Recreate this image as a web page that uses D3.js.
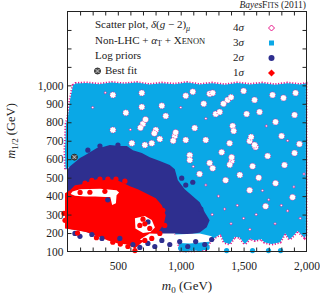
<!DOCTYPE html>
<html><head><meta charset="utf-8">
<script src="https://cdn.jsdelivr.net/npm/d3@7"></script>
<style>
body{margin:0;background:#fff;}
svg{display:block;font-family:"Liberation Serif","DejaVu Serif",serif;}
</style></head><body>
<svg id="c" width="320" height="295"></svg>
<script>
// ---- data (m0, m1/2) in GeV ----
const xTickLabels = [500, 1000, 1500, 2000];
const xMinorTicks = [200,300,400,500,600,700,800,900,1000,1100,1200,1300,1400,1500,1600,1700,1800,1900];
const yTickLabels = [100,200,300,400,500,600,700,800,900,1000];
const yMinorTicks = [200,300,400,500,600,700,800,900,1000,1100,1200,1300];
const levels = ["4σ","3σ","2σ","1σ"];

// outline of the 3σ scatter region
const region3 = [[144,1000],[165,1010],[250,1013],[350,1006],[450,1015],[550,1008],[650,1015],[750,1004],[850,1012],[950,1006],[1050,1015],[1150,1004],[1250,1012],[1350,1003],[1450,1013],[1550,1005],[1650,1012],[1750,1003],[1850,1012],[1950,1004],[1995,1010],
 [1995,190],[1984,175],[1930,212],[1895,185],[1865,165],[1830,200],[1790,150],[1722,140],[1665,150],[1640,168],[1590,160],[1550,170],[1510,140],[1470,176],[1430,180],[1390,140],[1345,150],[1318,195],[1270,175],[1230,150],[1200,108],[1100,104],[1000,104],[960,190],[900,320],[700,480],[400,560],[150,570],[85,545],[82,600],[80,650],[84,700],[88,790],[104,829],[120,921]];
// empty spots inside the 3σ region
const holes3 = [[691,959],[461,948],[1096,965],[1230,954],[1373,921],[1340,900],[1400,935],[1500,970],[1587,921],[1730,948],[1817,932],[1913,959],[1040,943],[1183,900],[1254,959],
 [850,889],[691,883],[1278,845],[1524,845],[1627,856],[881,834],[564,851],[461,758],[699,791],[720,815],[680,770],[802,758],[790,740],[1111,769],[1413,780],[1754,802],[1905,840],[1310,856],
 [953,725],[940,700],[960,745],[1040,704],[1199,704],[1389,687],[1548,698],[1595,666],[1587,677],[1560,720],[1802,725],[1944,682],[612,687],[770,687],[715,677],[834,709],[1421,753],
 [1072,622],[1326,638],[1072,595],[1230,579],[1405,590],[1405,610],[1390,570],[1571,562],[1691,617],[1825,568],[1905,633],[1254,551],
 [1357,486],[1548,432],[1754,470],[1889,394],[1675,345],[1150,520],[1470,515],[1620,500]];
// isolated 4σ points inside the 3σ region
const dots4 = [[1300,400],[1450,350],[1600,300],[1750,250],[1850,320],[1950,280],[1400,250],[1550,220],[1700,380],[1250,300],[1900,450],[1350,330],[1500,280],[1650,430],[1800,350],[1980,520],[1200,460],[1100,560],[300,880],[400,960],[1000,880],[1680,780],[1850,700],[1200,820],[600,760]];
// outline of the 2σ region
const region2 = [[96,541],[120,562],[159,584],[199,606],[239,622],[278,638],[334,660],[382,666],[437,677],[516,671],[572,671],[620,649],[691,633],[754,611],[834,590],[913,568],[953,546],[977,486],[1032,437],[1096,399],[1151,367],[1191,312],[1230,269],[1207,231],[1151,203],[1072,192],[953,198],[834,198],[715,187],[596,171],[437,171],[318,187],[239,209],[96,225]];
// outline of the 1σ region
const region1 = [[80,415],[120,432],[159,459],[215,464],[278,481],[334,492],[382,486],[437,492],[493,486],[532,475],[596,454],[659,437],[739,410],[802,388],[850,350],[881,296],[866,247],[818,203],[754,171],[691,149],[636,116],[580,138],[501,144],[421,160],[342,182],[263,203],[183,214],[120,220],[80,225]];
// empty gaps inside the 2σ / 1σ regions
const gapStreak = [[140,425],[200,437],[360,440],[490,432],[510,420],[490,405],[485,362],[455,352],[440,395],[400,395],[320,398],[240,398],[160,402],[125,412]];
const gapPatch = [[636,280],[715,292],[770,270],[795,230],[760,205],[700,200],[640,225]];
const gapBand = [[754,198],[953,192],[1151,198],[1246,182],[1246,154],[1072,144],[913,149],[754,149],[675,165]];
// isolated scatter points
const dots3 = [[1365,105],[1571,105],[1698,105],[1794,105],[1000,118],[1040,110],[1210,122],[1150,112]];
const dots2 = [[620,138],[675,122],[739,144],[794,127],[850,160],[913,138],[992,154],[1056,127],[1119,154],[1191,138],[1246,165],[516,171],[374,171],[294,192],[199,182],[159,198],[1008,497],[1096,475],[358,671],[501,677],[262,649],[1040,460],[1160,330],[740,260],[420,380]];
const dots1 = [[636,105],[580,127],[715,160],[770,171],[834,198],[873,241],[858,323],[715,250],[754,225],[675,241],[278,421],[397,426],[200,420],[294,486],[358,492],[421,492],[485,492],[556,481],[239,470],[72,307],[80,269],[460,150],[520,140],[330,175],[180,200],[560,330],[640,300],[700,275]];
const bestFit = [155, 611];

// ---- drawing ----
const C = {c4:"#e8198b", c3:"#0aa8e6", c2:"#2e2f8f", c1:"#ff0000", ink:"#222"};
const svg = d3.select("#c");
const x = d3.scaleLinear().domain([100,2000]).range([67.5,306.5]);
const y = d3.scaleLinear().domain([100,1400]).range([251.5,11.5]);
const line = d3.line().x(d=>x(d[0])).y(d=>y(d[1])).curve(d3.curveLinearClosed);
const g = svg.append("g");

// 3σ with 4σ fringe
g.append("path").attr("d", line(region3)).attr("fill","none").attr("stroke",C.c4)
 .attr("stroke-width",3).attr("stroke-dasharray","1.2 1.6");
g.append("path").attr("d", line(region3)).attr("fill",C.c3);
g.selectAll("circle.h").data(holes3).join("circle").attr("class","h")
 .attr("cx",d=>x(d[0])).attr("cy",d=>y(d[1])).attr("r",3)
 .attr("fill","#fff").attr("stroke",C.c4).attr("stroke-width",0.9).attr("stroke-dasharray","1 1.3");
g.append("g").selectAll("path").data(dots4).join("path")
 .attr("d",d=>{const cx=x(d[0]),cy=y(d[1]);return `M${cx},${cy-1.3}L${cx+1.3},${cy}L${cx},${cy+1.3}L${cx-1.3},${cy}Z`;})
 .attr("fill","#fff").attr("stroke",C.c4).attr("stroke-width",0.7);
g.append("path").attr("d", line(region2)).attr("fill",C.c2);
g.append("path").attr("d", line(region1)).attr("fill",C.c1);
[gapStreak, gapPatch, gapBand].forEach(p => g.append("path").attr("d", line(p)).attr("fill","#fff"));
const dot = (data, col) => g.append("g").selectAll("circle").data(data).join("circle")
 .attr("cx",d=>x(d[0])).attr("cy",d=>y(d[1])).attr("r",2.6).attr("fill",col);
dot(dots3, C.c3); dot(dots2, C.c2); dot(dots1, C.c1);

// best fit marker
const bf = g.append("g").attr("transform",`translate(${x(bestFit[0])},${y(bestFit[1])})`);
bf.append("circle").attr("r",3).attr("fill","#555").attr("stroke","#222").attr("stroke-width",0.9);
bf.append("path").attr("d","M-2,-2L2,2M-2,2L2,-2").attr("stroke","#ddd").attr("stroke-width",0.8);

// axes
function clean(sel){ sel.select(".domain").remove(); sel.selectAll("line").attr("stroke",C.ink); }
svg.append("g").attr("transform","translate(0,251.5)").call(d3.axisBottom(x).tickValues(xMinorTicks).tickSize(-4).tickFormat("")).call(clean);
svg.append("g").attr("transform","translate(0,11.5)").call(d3.axisTop(x).tickValues(xMinorTicks).tickSize(-4).tickFormat("")).call(clean);
svg.append("g").attr("transform","translate(67.5,0)").call(d3.axisLeft(y).tickValues(yMinorTicks).tickSize(-4).tickFormat("")).call(clean);
svg.append("g").attr("transform","translate(306.5,0)").call(d3.axisRight(y).tickValues(yMinorTicks).tickSize(-4).tickFormat("")).call(clean);
const xl = svg.append("g").attr("transform","translate(0,251.5)").call(d3.axisBottom(x).tickValues(xTickLabels).tickSize(0).tickPadding(10));
xl.select(".domain").remove();
xl.selectAll("text").attr("font-size",11.5).attr("font-family","Liberation Serif").attr("fill",C.ink);
const yl = svg.append("g").attr("transform","translate(67.5,0)").call(d3.axisLeft(y).tickValues(yTickLabels).tickSize(0).tickPadding(4));
yl.select(".domain").remove();
yl.selectAll("text").attr("font-size",11.5).attr("font-family","Liberation Serif").attr("fill",C.ink);
svg.append("rect").attr("x",67.5).attr("y",11.5).attr("width",239).attr("height",240)
 .attr("fill","none").attr("stroke",C.ink).attr("stroke-width",1);

// axis titles
const xt = svg.append("text").attr("x",187).attr("y",290).attr("text-anchor","middle").attr("font-size",13).attr("fill",C.ink);
xt.append("tspan").attr("font-style","italic").text("m");
xt.append("tspan").attr("font-size",9).attr("dy",2.5).text("0");
xt.append("tspan").attr("dy",-2.5).text(" (GeV)");
const yt = svg.append("text").attr("transform","translate(15,131) rotate(-90)").attr("text-anchor","middle").attr("font-size",12.5).attr("fill",C.ink);
yt.append("tspan").attr("font-style","italic").text("m");
yt.append("tspan").attr("font-size",9).attr("dy",2.5).text("1/2");
yt.append("tspan").attr("dy",-2.5).text(" (GeV)");

// header
const hd = svg.append("text").attr("x",306).attr("y",8).attr("text-anchor","end").attr("font-size",9.5).attr("fill",C.ink);
hd.append("tspan").attr("font-style","italic").text("Bayes");
hd.append("tspan").text("F");
hd.append("tspan").attr("font-size",7.5).text("ITS");
hd.append("tspan").text(" (2011)");

// legend text
const lf = 11;
const t1 = svg.append("text").attr("x",95).attr("y",28).attr("font-size",lf).attr("fill",C.ink);
t1.append("tspan").text("Scatter plot, ");
t1.append("tspan").attr("font-style","italic").text("δ");
t1.append("tspan").text("(");
t1.append("tspan").attr("font-style","italic").text("g");
t1.append("tspan").text(" − 2)");
t1.append("tspan").attr("font-style","italic").attr("font-size",8).attr("dy",2.5).text("μ");
const t2 = svg.append("text").attr("x",95).attr("y",44).attr("font-size",lf).attr("fill",C.ink);
t2.append("tspan").text("Non-LHC + ");
t2.append("tspan").attr("font-style","italic").text("α");
t2.append("tspan").attr("font-size",8).attr("dy",2).text("T");
t2.append("tspan").attr("dy",-2).text(" + X");
t2.append("tspan").attr("font-size",8.5).text("ENON");
svg.append("text").attr("x",95).attr("y",59).attr("font-size",lf).attr("fill",C.ink).text("Log priors");
const bl = svg.append("g").attr("transform","translate(97.5,71)");
bl.append("circle").attr("r",3).attr("fill","#555").attr("stroke","#222").attr("stroke-width",0.9);
bl.append("path").attr("d","M-2,-2L2,2M-2,2L2,-2").attr("stroke","#ddd").attr("stroke-width",0.8);
svg.append("text").attr("x",105).attr("y",74).attr("font-size",lf).attr("fill",C.ink).text("Best fit");

// legend levels
const ly = [28,43,58,73];
levels.forEach((l,i)=>{
  const t = svg.append("text").attr("x",233).attr("y",ly[i]+3).attr("font-size",lf).attr("fill",C.ink);
  t.append("tspan").text(l[0]);
  t.append("tspan").attr("font-style","italic").text(l.slice(1));
});
const mx = 271.5;
svg.append("path").attr("d",`M${mx},${ly[0]-3}L${mx+3},${ly[0]}L${mx},${ly[0]+3}L${mx-3},${ly[0]}Z`).attr("fill","#fff").attr("stroke",C.c4).attr("stroke-width",1);
svg.append("rect").attr("x",mx-2.5).attr("y",ly[1]-2.5).attr("width",5).attr("height",5).attr("fill",C.c3);
svg.append("circle").attr("cx",mx).attr("cy",ly[2]).attr("r",3).attr("fill",C.c2);
svg.append("path").attr("d",`M${mx},${ly[3]-3.5}L${mx+3.5},${ly[3]}L${mx},${ly[3]+3.5}L${mx-3.5},${ly[3]}Z`).attr("fill",C.c1);
</script>
</body></html>
